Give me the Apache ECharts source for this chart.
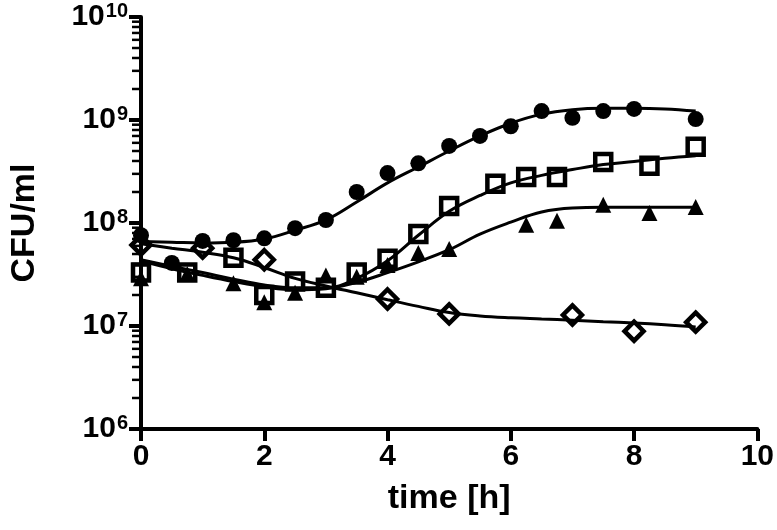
<!DOCTYPE html>
<html>
<head>
<meta charset="utf-8">
<script src="https://cdn.jsdelivr.net/npm/echarts@6/dist/echarts.min.js"></script>
<style>
html,body{margin:0;padding:0;background:#fff;}
#c{width:777px;height:530px;}
</style>
</head>
<body>
<div id="c"></div>
<script>
// ---- data ----
const xTicks = [0, 2, 4, 6, 8, 10];
const yDecades = [1e6, 1e7, 1e8, 1e9, 1e10];
const minorTickValues = [];
[1e6, 1e7, 1e8, 1e9].forEach(function (d) { for (let k = 2; k <= 9; k++) minorTickValues.push(k * d); });

const circleX = [0, 0.5, 1, 1.5, 2, 2.5, 3, 3.5, 4, 4.5, 5, 5.5, 6, 6.5, 7, 7.5, 8, 9];
const circleY = [7.6e7, 4.1e7, 6.7e7, 6.8e7, 7.1e7, 8.9e7, 1.07e8, 2.0e8, 3.05e8, 3.8e8, 5.6e8, 7.0e8, 8.7e8, 1.22e9, 1.05e9, 1.22e9, 1.28e9, 1.02e9];

const squareX = [0, 0.75, 1.5, 2, 2.5, 3, 3.5, 4, 4.5, 5, 5.75, 6.25, 6.75, 7.5, 8.25, 9];
const squareY = [3.3e7, 3.3e7, 4.6e7, 2.0e7, 2.7e7, 2.35e7, 3.3e7, 4.5e7, 7.8e7, 1.46e8, 2.4e8, 2.8e8, 2.8e8, 3.9e8, 3.6e8, 5.5e8];

const triangleX = [0, 0.75, 1.5, 2, 2.5, 3, 3.5, 4, 4.5, 5, 6.25, 6.75, 7.5, 8.25, 9];
const triangleY = [2.9e7, 3.2e7, 2.6e7, 1.7e7, 2.1e7, 3.1e7, 3.0e7, 3.9e7, 5.1e7, 5.6e7, 9.6e7, 1.05e8, 1.5e8, 1.25e8, 1.43e8];

const diamondX = [0, 1, 2, 4, 5, 7, 8, 9];
const diamondY = [6.1e7, 5.7e7, 4.4e7, 1.83e7, 1.31e7, 1.28e7, 8.9e6, 1.09e7];

// fitted curves
const fitX = [0, 0.5, 1, 1.5, 2, 2.5, 3, 3.5, 4, 4.5, 5, 5.5, 6, 6.5, 7, 7.5, 8, 8.5, 9];
const circleFit   = [6.6e7, 6.5e7, 6.4e7, 6.5e7, 7.0e7, 8.5e7, 1.07e8, 1.6e8, 2.45e8, 3.5e8, 5.0e8, 7.0e8, 9.3e8, 1.14e9, 1.26e9, 1.3e9, 1.3e9, 1.28e9, 1.22e9];
const squareFit   = [4.4e7, 3.8e7, 3.3e7, 2.85e7, 2.5e7, 2.35e7, 2.35e7, 2.9e7, 4.3e7, 7.6e7, 1.3e8, 1.85e8, 2.45e8, 2.9e8, 3.3e8, 3.7e8, 3.95e8, 4.25e8, 4.5e8];
const triangleFit = [4.3e7, 3.6e7, 3.1e7, 2.7e7, 2.4e7, 2.25e7, 2.3e7, 2.65e7, 3.3e7, 4.2e7, 5.5e7, 7.8e7, 1.02e8, 1.28e8, 1.4e8, 1.42e8, 1.42e8, 1.42e8, 1.42e8];
const diamondFit  = [6.3e7, 5.7e7, 5.2e7, 4.6e7, 3.7e7, 2.9e7, 2.45e7, 2.1e7, 1.8e7, 1.55e7, 1.35e7, 1.25e7, 1.2e7, 1.17e7, 1.14e7, 1.1e7, 1.07e7, 1.03e7, 9.8e6];

// ---- chart ----
const FONT = "'Liberation Sans', Arial, Helvetica, sans-serif";
const zip = (xs, ys) => xs.map((x, i) => [x, ys[i]]);

function curve(ys) {
  return {
    type: 'line', data: zip(fitX, ys), smooth: 0.4, showSymbol: false, symbol: 'none',
    lineStyle: { color: '#000', width: 3, opacity: 1 }, z: 2, silent: true
  };
}
function marks(xs, ys, symbol, size, filled) {
  return {
    type: 'scatter', data: zip(xs, ys), symbol: symbol, symbolSize: size, z: 5, clip: false,
    itemStyle: filled ? { color: '#000', opacity: 1 }
                      : { color: 'rgba(0,0,0,0)', borderColor: '#000', borderWidth: 4.5, opacity: 1 }
  };
}

const chart = echarts.init(document.getElementById('c'), null, { renderer: 'canvas' });
chart.setOption({
  animation: false,
  backgroundColor: '#fff',
  textStyle: { fontFamily: FONT },
  grid: { left: 139, right: 18, top: 17, bottom: 101, containLabel: false },
  xAxis: {
    type: 'value', min: 0, max: 10, interval: 2,
    name: 'time [h]', nameLocation: 'middle', nameGap: 53,
    nameTextStyle: { fontSize: 34, fontWeight: 'bold', color: '#000', fontFamily: FONT },
    axisLine: { lineStyle: { color: '#000', width: 4 } },
    axisTick: { show: true, inside: false, length: 12, lineStyle: { color: '#000', width: 4 } },
    axisLabel: { color: '#000', fontSize: 30, fontWeight: 'bold', margin: 13, fontFamily: FONT,
      customValues: xTicks },
    splitLine: { show: false }
  },
  yAxis: {
    type: 'log', logBase: 10, min: yDecades[0], max: yDecades[yDecades.length - 1],
    name: 'CFU/ml', nameLocation: 'middle', nameGap: 99, nameRotate: 90,
    nameTextStyle: { fontSize: 34, fontWeight: 'bold', color: '#000', fontFamily: FONT },
    axisLine: { lineStyle: { color: '#000', width: 4 } },
    axisTick: { show: true, inside: false, length: 12, lineStyle: { color: '#000', width: 4 } },
    axisLabel: {
      margin: 13,
      formatter: function (v) { return '{b|10}{e|' + Math.round(Math.log10(v)) + '}'; },
      rich: {
        b: { fontSize: 30, fontWeight: 'bold', color: '#000', fontFamily: FONT },
        e: { fontSize: 20, fontWeight: 'bold', color: '#000', fontFamily: FONT, verticalAlign: 'top', padding: [0, 0, 12, 1] }
      }
    },
    splitLine: { show: false }
  },
  series: [
    curve(circleFit), curve(squareFit), curve(triangleFit), curve(diamondFit),
    marks(circleX, circleY, 'circle', 16, true),
    marks(squareX, squareY, 'rect', 16, false),
    marks(triangleX, triangleY, 'triangle', 16, true),
    marks(diamondX, diamondY, 'diamond', 19, false)
  ]
});

// minor log ticks on the y axis: positions come from the chart's own y scale
const minorTicks = minorTickValues.map(function (v) {
  const p = chart.convertToPixel({ gridIndex: 0 }, [0, v]);
  return { type: 'line', z: 100, silent: true,
           shape: { x1: p[0] - 9, y1: p[1], x2: p[0], y2: p[1] },
           style: { stroke: '#000', lineWidth: 2.5 } };
});
chart.setOption({ graphic: { elements: minorTicks } });
</script>
</body>
</html>
